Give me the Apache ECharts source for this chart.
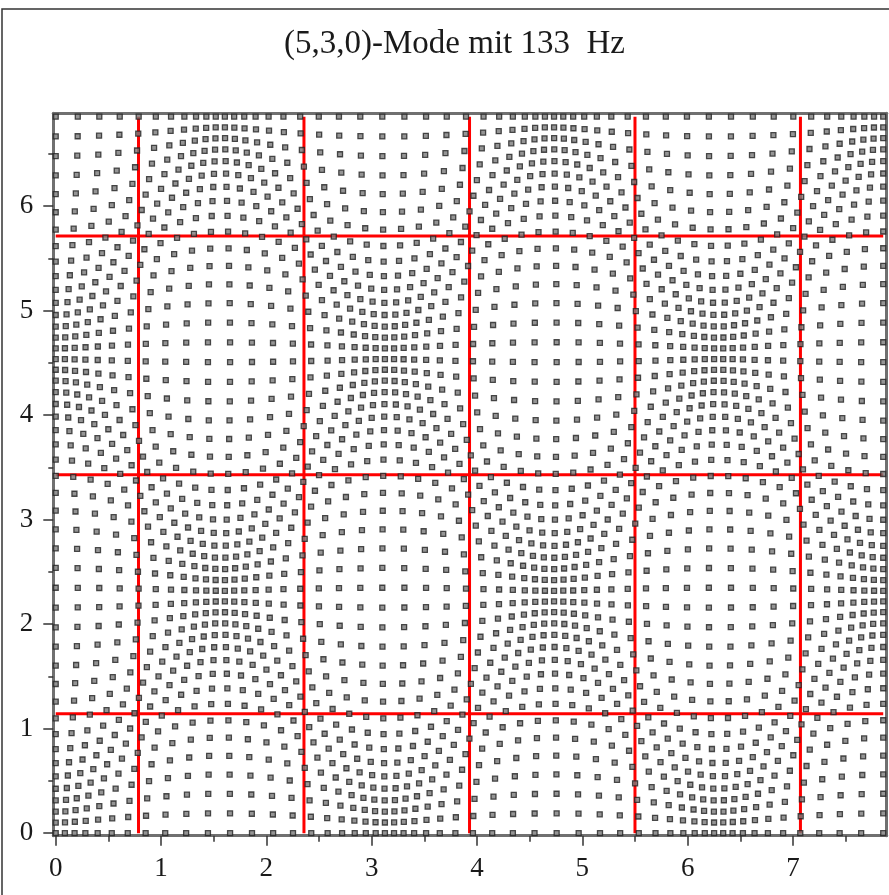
<!DOCTYPE html>
<html><head><meta charset="utf-8">
<script src="https://cdn.jsdelivr.net/npm/echarts@6/dist/echarts.min.js"></script>
<style>html,body{margin:0;padding:0;background:#fff}#c{width:889px;height:895px}</style>
</head><body><div id="c"></div>
<script>
// ---- data ----
const titleText = '(5,3,0)-Mode mit 133  Hz';
const modeIndices = [5, 3, 0];            // (nx, ny, nz)
const roomSize = [7.857, 6.857];          // room length (x) and width (y)
const gridIntervals = [53, 47];           // grid of particles: intervals along x and y
const displacementAmp = [0.21, 0.22];     // particle displacement amplitude along x and y
const nodeLinesX = [0.786, 2.357, 3.929, 5.5, 7.071];   // pressure nodal lines (red)
const nodeLinesY = [1.143, 3.429, 5.714];
const xTickValues = [0, 1, 2, 3, 4, 5, 6, 7];
const xMinorTickValues = [0.5, 1.5, 2.5, 3.5, 4.5, 5.5, 6.5, 7.5];
const yTickValues = [0, 1, 2, 3, 4, 5, 6];
const yMinorTickValues = [0.5, 1.5, 2.5, 3.5, 4.5, 5.5, 6.5];
const xRange = [-0.023, 7.89];
const yRange = [-0.024, 6.889];

// particle positions of the displaced grid for this room mode
const kx = modeIndices[0] * Math.PI / roomSize[0];
const ky = modeIndices[1] * Math.PI / roomSize[1];
const particles = [];
for (let i = 0; i <= gridIntervals[0]; i++) {
  const bx = i * roomSize[0] / gridIntervals[0];
  for (let j = 0; j <= gridIntervals[1]; j++) {
    const by = j * roomSize[1] / gridIntervals[1];
    particles.push([
      bx - displacementAmp[0] * Math.sin(kx * bx) * Math.cos(ky * by),
      by - displacementAmp[1] * Math.cos(kx * bx) * Math.sin(ky * by)
    ]);
  }
}

const serif = 'Liberation Serif, Times New Roman, serif';
const axisGray = '#707070';
const series = [];
nodeLinesX.forEach(x => series.push({
  type: 'line', data: [[x, 0], [x, roomSize[1]]], symbol: 'none', silent: true, z: 2,
  lineStyle: { color: '#ff0000', width: 3 }, animation: false
}));
nodeLinesY.forEach(y => series.push({
  type: 'line', data: [[0, y], [roomSize[0], y]], symbol: 'none', silent: true, z: 2,
  lineStyle: { color: '#ff0000', width: 3 }, animation: false
}));
series.push({
  type: 'scatter', data: particles, symbol: 'rect', symbolSize: 5, z: 3,
  itemStyle: { color: '#7a7a7a', borderColor: '#222', borderWidth: 1.3 },
  animation: false, silent: true
});

const chart = echarts.init(document.getElementById('c'));
chart.setOption({
  backgroundColor: '#fff',
  animation: false,
  title: {
    text: titleText, left: 284, top: 28, padding: 0,
    textStyle: { fontFamily: serif, fontSize: 33, fontWeight: 'normal', color: '#1a1a1a' }
  },
  graphic: [{
    type: 'rect', shape: { x: 2, y: 9, width: 1000, height: 1000 },
    style: { fill: 'none', stroke: '#333', lineWidth: 1.5 }, silent: true
  }],
  grid: { left: 53.3, right: 2.3, top: 113.3, bottom: 59.3, containLabel: false },
  xAxis: [
    { type: 'value', min: xRange[0], max: xRange[1], position: 'bottom',
      axisLine: { show: true, onZero: false, lineStyle: { color: axisGray, width: 3 } },
      axisTick: { show: true, inside: false, length: 10, customValues: xTickValues, lineStyle: { color: '#333', width: 1.5 } },
      axisLabel: { show: true, customValues: xTickValues, margin: 20, fontFamily: serif, fontSize: 27, color: '#1a1a1a', formatter: v => String(Math.round(v)) },
      splitLine: { show: false } },
    { type: 'value', min: xRange[0], max: xRange[1], position: 'bottom',
      axisLine: { show: false, onZero: false },
      axisTick: { show: true, length: 6, customValues: xMinorTickValues, lineStyle: { color: '#333', width: 1.5 } },
      axisLabel: { show: false }, splitLine: { show: false } },
    { type: 'value', min: xRange[0], max: xRange[1], position: 'top',
      axisLine: { show: true, onZero: false, lineStyle: { color: axisGray, width: 3 } },
      axisTick: { show: false }, axisLabel: { show: false }, splitLine: { show: false } }
  ],
  yAxis: [
    { type: 'value', min: yRange[0], max: yRange[1], position: 'left',
      axisLine: { show: true, onZero: false, lineStyle: { color: axisGray, width: 3 } },
      axisTick: { show: true, length: 10, customValues: yTickValues, lineStyle: { color: '#333', width: 1.5 } },
      axisLabel: { show: true, customValues: yTickValues, margin: 20, fontFamily: serif, fontSize: 27, color: '#1a1a1a', formatter: v => String(Math.round(v)) },
      splitLine: { show: false } },
    { type: 'value', min: yRange[0], max: yRange[1], position: 'left',
      axisLine: { show: false, onZero: false },
      axisTick: { show: true, length: 5, customValues: yMinorTickValues, lineStyle: { color: '#333', width: 1.5 } },
      axisLabel: { show: false }, splitLine: { show: false } },
    { type: 'value', min: yRange[0], max: yRange[1], position: 'right',
      axisLine: { show: true, onZero: false, lineStyle: { color: axisGray, width: 3 } },
      axisTick: { show: false }, axisLabel: { show: false }, splitLine: { show: false } }
  ],
  series: series
});
</script></body></html>
